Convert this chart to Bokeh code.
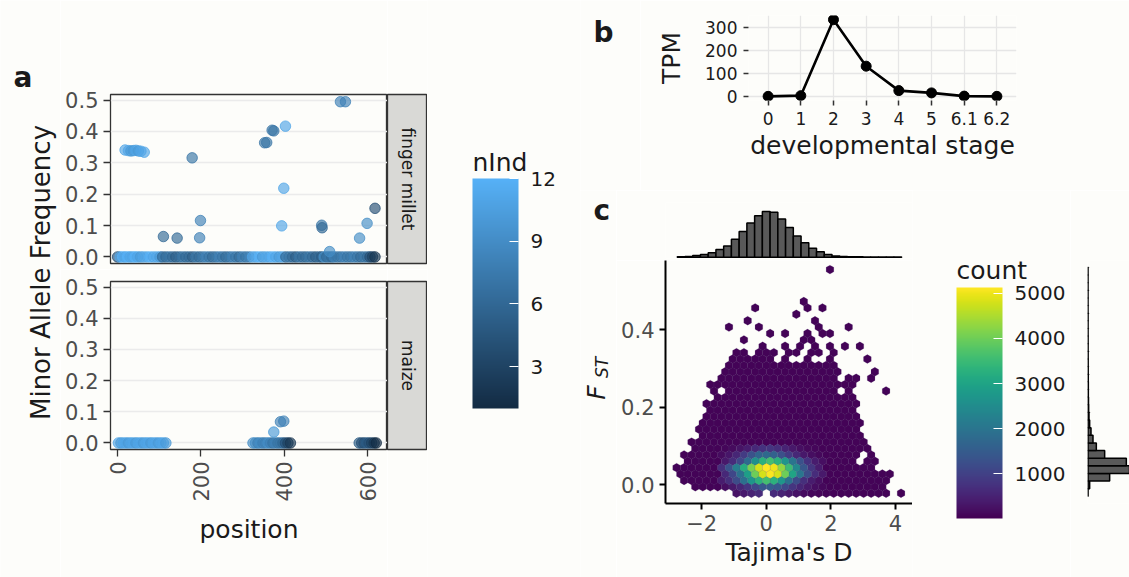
import numpy as np
from bokeh.plotting import figure
from bokeh.layouts import row, column
from bokeh.models import (ColumnDataSource, Range1d, FixedTicker, PrintfTickFormatter,
                          LinearColorMapper, ColorBar, Label)
from bokeh.transform import transform
from bokeh.palettes import Viridis256
from bokeh.embed import file_html
from bokeh.resources import INLINE

BG = "#FDFDFA"
FONT = "DejaVu Sans"
GRAY_TXT = "#4D4D4D"
DARK = "#1A1A1A"

# ---------------- panel a data ----------------
fm_zero_pos = [0, 6, 12, 18, 24, 30, 36, 42, 48, 55, 62, 70, 78, 86, 94, 102,
               108, 116, 124, 132, 140, 148, 156, 164, 172, 180, 188, 196,
               204, 212, 220, 228, 236, 244, 252, 260, 268, 276, 284, 292, 300, 308, 316,
               324, 332, 340, 348, 356, 364, 372, 380, 388, 396,
               404, 412, 420, 428, 436, 444, 452, 460, 468, 476,
               484, 490, 496, 502, 508, 514, 520,
               528, 536, 544, 552, 560, 568, 576, 584, 592, 600,
               606, 612, 618]
fm_zero_nind = [4, 11, 12, 11, 12, 11, 11, 12, 11, 10, 11, 11, 12, 11, 11, 10,
                6, 6, 7, 6, 5, 6, 7, 6, 6, 5, 7, 6,
                7, 8, 7, 6, 7, 8, 7, 6, 7, 8, 7, 6, 8, 7, 8,
                11, 11, 12, 10, 11, 11, 12, 11, 10, 11,
                6, 7, 6, 5, 7, 6, 6, 7, 6, 5,
                6, 5, 9, 6, 7, 6, 8,
                7, 7, 8, 7, 7, 8, 7, 6, 7, 6,
                4, 3, 2]
fm_pos = [18, 26, 32, 38, 44, 50, 56, 64, 110, 143, 179, 199, 197, 353, 358, 371, 375,
          403, 399, 394, 490, 491, 509, 535, 547, 581, 599, 618]
fm_maf = [0.341, 0.339, 0.338, 0.339, 0.340, 0.338, 0.337, 0.334, 0.065, 0.060, 0.316,
          0.116, 0.061, 0.364, 0.365, 0.404, 0.402, 0.417, 0.219, 0.099, 0.101, 0.093,
          0.017, 0.495, 0.495, 0.060, 0.107, 0.155]
fm_nind = [11, 11, 10, 10, 11, 10, 11, 11, 6, 6, 7, 8, 8, 7, 7, 7, 7, 11, 11, 11,
           7, 6, 9, 8, 8, 9, 9, 4]

mz_zero_pos = [2, 8, 14, 20, 26, 32, 38, 44, 50, 56, 62, 68, 74, 80, 86, 92, 98, 104, 110, 116,
               325, 331, 337, 343, 349, 355, 361, 367, 373, 379, 385, 391, 397, 403, 409, 415,
               580, 586, 592, 598, 604, 610, 616, 621]
mz_zero_nind = [11, 10, 11, 11, 10, 11, 11, 10, 11, 11, 10, 11, 11, 10, 11, 11, 10, 11, 11, 10,
                9, 9, 8, 9, 8, 8, 9, 8, 7, 8, 7, 7, 6, 4, 3, 2,
                5, 4, 4, 5, 4, 3, 2, 1]
mz_pos = [375, 391, 399]
mz_maf = [0.035, 0.068, 0.070]
mz_nind = [10, 8, 8]

maf_ticks = [0.0, 0.1, 0.2, 0.3, 0.4, 0.5]
pos_ticks = [0, 200, 400, 600]
nind_ticks = [3, 6, 9, 12]

# ---------------- panel b data ----------------
stages = ["0", "1", "2", "3", "4", "5", "6.1", "6.2"]
tpm = [0, 3, 333, 131, 25, 15, 1, 0]
tpm_ticks = [0, 100, 200, 300]

# ---------------- panel c data ----------------
# hexagon lattice (ggplot geom_hex, 30 bins)
HEX_DX, HEX_DY, HEX_X0, HEX_Y0 = 0.2317, 0.01646, -2.776, -0.0215
span_row   = [0, 0, 1, 2, 3, 4, 5, 6, 7, 8, 9, 10, 11, 12, 13, 14, 15, 16, 17, 18, 19, 20, 21, 22]
span_first = [8, 13, 2, 1, 0, 0, 1, 1, 2, 2, 3, 3, 3, 4, 4, 4, 5, 5, 4, 6, 6, 7, 7, 11]
span_last  = [11, 28, 27, 28, 28, 26, 26, 26, 25, 25, 24, 24, 24, 24, 23, 24, 23, 23, 23, 21, 21, 21, 20, 21]
hole_row = [5, 6, 16, 16, 21, 21, 21, 21, 21, 22, 22, 22]
hole_col = [24, 25, 6, 22, 13, 15, 16, 18, 19, 14, 17, 20]
extra_row = [0, 16, 18, 18, 18, 19, 21, 22, 22, 23, 23, 23, 23, 23, 23, 23, 24, 24, 24,
             25, 25, 25, 25, 25, 26, 26, 26, 26, 27, 27, 28, 29, 29, 29, 30, 35]
extra_col = [30, 28, 23, 24, 26, 26, 25, 8, 9, 11, 14, 16, 18, 20, 22, 24, 9, 17, 18,
             12, 14, 17, 19, 20, 7, 11, 19, 23, 9, 18, 16, 10, 17, 19, 17, 20]
base_count = 60
core_rows = [0, 1, 2, 3, 4, 5, 6, 7]
core_first_col = 6
core_counts = [
    [100, 150, 250, 380, 520, 640, 0, 640, 520, 380, 250, 150, 100, 70],
    [200, 350, 550, 800, 1100, 1400, 1500, 1400, 1100, 800, 550, 350, 200, 120],
    [400, 700, 1200, 1900, 2700, 3300, 3600, 3300, 2700, 1900, 1200, 700, 400, 220],
    [600, 1100, 1900, 2900, 4000, 4800, 5100, 4800, 4000, 3000, 2000, 1200, 650, 350],
    [700, 1300, 2200, 3200, 4100, 4800, 5133, 5000, 4300, 3500, 2400, 1400, 800, 400],
    [350, 650, 1100, 1800, 2600, 3300, 3600, 3300, 2700, 2000, 1300, 750, 400, 220],
    [180, 320, 550, 900, 1300, 1650, 1750, 1600, 1250, 900, 580, 340, 200, 120],
    [90, 160, 270, 420, 600, 750, 800, 700, 520, 350, 220, 140, 90, 60],
]
count_ticks = [1000, 2000, 3000, 4000, 5000]

# marginal histograms
tajd_binw = 0.2397
tajd_first_bin = -11
tajd_hist = [100, 200, 500, 800, 1300, 2300, 3300, 5300, 7600, 10100, 12300, 13500, 13300,
             11300, 8800, 6300, 4300, 2600, 1600, 800, 300, 200, 100, 100, 50, 30, 30, 20, 20]
fst_binw = 0.01966
fst_first_bin = -1
fst_hist = [20, 500, 6500, 13000, 11500, 5000, 2500, 1500, 900, 500, 300, 200, 150, 100, 100,
            80, 60, 50, 40, 30, 30, 20, 20, 20, 10, 10, 10, 10, 10, 10]

tajd_ticks = [-2, 0, 2, 4]
fst_ticks = [0.0, 0.2, 0.4]


# ---------------- helpers ----------------
def ramp(c0, c1, n=256):
    a = np.array([int(c0[i:i + 2], 16) for i in (1, 3, 5)], float)
    b = np.array([int(c1[i:i + 2], 16) for i in (1, 3, 5)], float)
    return ["#%02x%02x%02x" % tuple(int(round(v)) for v in a + (b - a) * t)
            for t in np.linspace(0, 1, n)]


def make_fig(w, h, l=0, r=0, t=0, b=0, **kw):
    p = figure(width=w, height=h, min_border_left=l, min_border_right=r,
               min_border_top=t, min_border_bottom=b, toolbar_location=None,
               output_backend="svg", **kw)
    p.border_fill_color = BG
    p.background_fill_color = BG
    p.outline_line_color = None
    p.xgrid.visible = False
    p.ygrid.visible = False
    return p


def blank(w, h):
    return make_fig(w, h, x_axis_location=None, y_axis_location=None)


def style_axis(ax, size="21px", color=GRAY_TXT):
    ax.major_label_text_font = FONT
    ax.major_label_text_font_size = size
    ax.major_label_text_color = color
    ax.axis_label_text_font = FONT
    ax.axis_label_text_font_size = "25px"
    ax.axis_label_text_font_style = "normal"
    ax.axis_label_text_color = DARK
    ax.minor_tick_line_color = None


def lab(p, x, y, text, size, angle=0.0, bold=False, align="center", baseline="middle",
        color=DARK, italic=False):
    style = "bold" if bold else ("italic" if italic else "normal")
    p.add_layout(Label(x=x, y=y, x_units="screen", y_units="screen", text=text, angle=angle,
                       text_align=align, text_baseline=baseline, text_font=FONT,
                       text_font_size=size, text_font_style=style, text_color=color))


def colorbar(mapper, ticks, loc, h):
    return ColorBar(color_mapper=mapper, ticker=FixedTicker(ticks=ticks),
                    major_label_text_font=FONT, major_label_text_font_size="20px",
                    major_label_text_color=DARK, label_standoff=12,
                    major_tick_in=9, major_tick_out=0, major_tick_line_color="white",
                    major_tick_line_width=1.2, minor_tick_line_color=None,
                    bar_line_color=None, border_line_color=None,
                    background_fill_color=BG, background_fill_alpha=0.0,
                    padding=0, margin=0, width=46, height=h, location=loc)


# ---------------- panel a ----------------
map_n = LinearColorMapper(palette=ramp("#132B43", "#56B1F7"), low=1, high=12)
xr_a = Range1d(-17, 648)


def facet(h, t, b, zero_pos, zero_n, pos, maf, nind, show_x):
    p = make_fig(327, h, l=50, t=t, b=b, x_range=xr_a, y_range=Range1d(-0.021, 0.518),
                 x_axis_location="below" if show_x else None)
    p.outline_line_color = "#333333"
    p.outline_line_width = 1.3
    p.ygrid.visible = True
    p.ygrid.ticker = FixedTicker(ticks=maf_ticks)
    p.ygrid.grid_line_color = "#EBEBEB"
    p.ygrid.grid_line_width = 1.3
    p.yaxis.ticker = FixedTicker(ticks=maf_ticks)
    p.yaxis.formatter = PrintfTickFormatter(format="%.1f")
    style_axis(p.yaxis)
    p.yaxis.axis_line_color = None
    p.yaxis.major_tick_line_color = "#333333"
    p.yaxis.major_tick_line_width = 1.3
    p.yaxis.major_tick_out = 7
    p.yaxis.major_tick_in = 0
    p.yaxis.major_label_standoff = 5
    if show_x:
        p.xaxis.ticker = FixedTicker(ticks=pos_ticks)
        style_axis(p.xaxis)
        p.xaxis.axis_line_color = None
        p.xaxis.major_tick_line_color = "#333333"
        p.xaxis.major_tick_line_width = 1.3
        p.xaxis.major_tick_out = 7
        p.xaxis.major_tick_in = 0
        p.xaxis.major_label_orientation = np.pi / 2
        p.xaxis.major_label_standoff = 5
        p.xaxis.axis_label = "position"
        p.xaxis.axis_label_standoff = 10
    z = ColumnDataSource(dict(x=zero_pos, y=[0.0] * len(zero_pos), n=zero_n))
    s = ColumnDataSource(dict(x=pos, y=maf, n=nind))
    for src in (z, s):
        p.scatter("x", "y", source=src, size=10.5, fill_color=transform("n", map_n),
                  line_color=transform("n", map_n), fill_alpha=0.65, line_alpha=0.75)
    return p


a1 = facet(269, 94, 6, fm_zero_pos, fm_zero_nind, fm_pos, fm_maf, fm_nind, False)
a2 = facet(308, 12, 128, mz_zero_pos, mz_zero_nind, mz_pos, mz_maf, mz_nind, True)


def strip(h, t, b, text):
    p = make_fig(40, h, t=t, b=b, x_axis_location=None, y_axis_location=None)
    p.background_fill_color = "#D9D9D6"
    p.outline_line_color = "#333333"
    p.outline_line_width = 1.3
    lab(p, 20, (h - t - b) / 2, text, "17px", angle=-np.pi / 2)
    return p


s1 = strip(269, 94, 6, "finger millet")
s2 = strip(308, 12, 128, "maize")

ylab = blank(60, 577)
lab(ylab, 40, 305, "Minor Allele Frequency", "26px", angle=np.pi / 2)
lab(ylab, 13, 500, "a", "28px", bold=True, align="left", baseline="alphabetic")

cba = blank(153, 577)
cba.add_layout(colorbar(map_n, nind_ticks, (45, 169), 230))
lab(cba, 45, 415, "nInd", "25px", align="left", baseline="alphabetic")

# ---------------- panel b ----------------
bl = blank(60, 190)
lab(bl, 13, 158, "b", "28px", bold=True, align="left", baseline="alphabetic")

xb = list(range(len(stages)))
bp = make_fig(489, 190, l=108, r=113, t=15, b=90, x_range=Range1d(-0.6, 7.6),
              y_range=Range1d(-18, 351))
for g, ticks in ((bp.xgrid, xb), (bp.ygrid, tpm_ticks)):
    g.visible = True
    g.ticker = FixedTicker(ticks=ticks)
    g.grid_line_color = "#E6E6E6"
    g.grid_line_width = 1.3
bp.xaxis.ticker = FixedTicker(ticks=xb)
bp.xaxis.major_label_overrides = {i: s for i, s in enumerate(stages)}
bp.yaxis.ticker = FixedTicker(ticks=tpm_ticks)
for ax in (bp.xaxis, bp.yaxis):
    style_axis(ax, size="17px", color=DARK)
    ax.axis_line_color = None
    ax.major_tick_line_color = "#333333"
    ax.major_tick_line_width = 1.5
    ax.major_tick_out = 5
    ax.major_tick_in = 0
    ax.major_label_standoff = 6
bp.xaxis.axis_label = "developmental stage"
bp.xaxis.axis_label_standoff = 3
bp.yaxis.axis_label = "TPM"
bp.yaxis.axis_label_standoff = 16
bsrc = ColumnDataSource(dict(x=xb, y=tpm))
bp.line("x", "y", source=bsrc, line_color="black", line_width=2.6)
bp.scatter("x", "y", source=bsrc, size=10, color="black")

# ---------------- panel c ----------------
xr_c = Range1d(-3.12, 4.53)
yr_c = Range1d(-0.048, 0.578)

holes = set(zip(hole_row, hole_col))
cells = {}
for r, c0, c1 in zip(span_row, span_first, span_last):
    for c in range(c0, c1 + 1):
        if (r, c) not in holes:
            cells[(r, c)] = base_count
for r, c in zip(extra_row, extra_col):
    cells[(r, c)] = base_count
for r, vals in zip(core_rows, core_counts):
    for i, v in enumerate(vals):
        if (r, core_first_col + i) in cells and v > 0:
            cells[(r, core_first_col + i)] = v
keys = sorted(cells, key=lambda k: cells[k])
hx = [HEX_X0 + (c + 0.5 * (r % 2)) * HEX_DX for r, c in keys]
hy = [HEX_Y0 + r * HEX_DY for r, c in keys]
hc = [cells[k] for k in keys]

map_c = LinearColorMapper(palette=Viridis256, low=1, high=5133)

cl = blank(36, 387)
lab(cl, 13, 367, "c", "28px", bold=True, align="left", baseline="alphabetic")
lab(cl, 16, 185, "F", "25px", angle=np.pi / 2, italic=True)
lab(cl, 21, 210, "ST", "17px", angle=np.pi / 2, italic=True)

cm = make_fig(296, 317, l=49, b=74, x_range=xr_c, y_range=yr_c)
hsrc = ColumnDataSource(dict(x=hx, y=hy, c=hc))
cm.scatter("x", "y", source=hsrc, size=8.9, marker="hex", angle=np.pi / 2,
           fill_color=transform("c", map_c), line_color="#5a4a78", line_alpha=0.35,
           line_width=0.5)
cm.xaxis.ticker = FixedTicker(ticks=tajd_ticks)
cm.xaxis.major_label_overrides = {-2: "\u22122"}
cm.yaxis.ticker = FixedTicker(ticks=fst_ticks)
cm.yaxis.formatter = PrintfTickFormatter(format="%.1f")
for ax in (cm.xaxis, cm.yaxis):
    style_axis(ax)
    ax.axis_line_color = "black"
    ax.axis_line_width = 2
    ax.major_tick_line_color = "black"
    ax.major_tick_line_width = 2
    ax.major_tick_out = 6
    ax.major_tick_in = 0
    ax.major_label_standoff = 5
cm.xaxis.axis_label = "Tajima's D"
cm.xaxis.axis_label_standoff = 4

# top marginal histogram (Tajima's D)
ctop = make_fig(296, 70, l=49, t=12, b=2, x_range=xr_c,
                y_range=Range1d(-max(tajd_hist) * 0.03, max(tajd_hist) * 1.2),
                x_axis_location=None, y_axis_location=None)
tx = [(tajd_first_bin + i) * tajd_binw for i in range(len(tajd_hist))]
ctop.vbar(x=tx, top=tajd_hist, bottom=0, width=tajd_binw, fill_color="#595959",
          line_color="black", line_width=1.5)

# right marginal histogram (F_ST)
cr = make_fig(59, 387, l=17, t=70, b=74, x_range=Range1d(-150, 12450), y_range=yr_c,
              x_axis_location=None, y_axis_location=None)
fy = [(fst_first_bin + i) * fst_binw for i in range(len(fst_hist))]
cr.hbar(y=fy, left=0, right=fst_hist, height=fst_binw, fill_color="#595959",
        line_color="black", line_width=1.5)

ccb = blank(158, 387)
ccb.add_layout(colorbar(map_c, count_ticks, (44, 59), 231))
lab(ccb, 44, 307, "count", "25px", align="left", baseline="alphabetic")

# each plot wrapped in its own column so that row siblings do not align their frames
left = row(column(ylab), column(a1, a2), column(s1, s2), column(cba))
right = column(row(column(bl), column(bp)),
               row(column(cl), column(ctop, cm), column(ccb), column(cr)))
layout = row(left, right)

open("out.html", "w").write(file_html(layout, INLINE, title="figure"))
